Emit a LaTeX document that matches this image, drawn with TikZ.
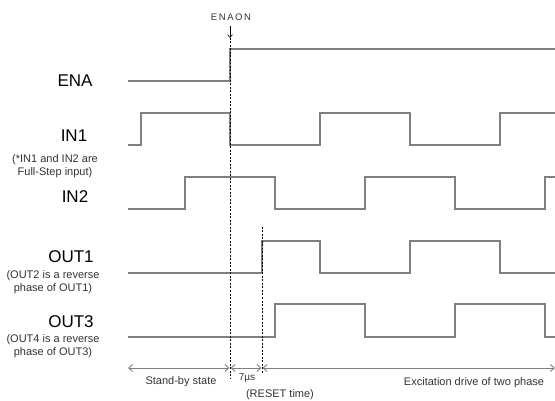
\documentclass[tikz,border=0pt]{standalone}
\usepackage{fontspec}
\setmainfont{Liberation Sans}
\usetikzlibrary{arrows.meta}
\definecolor{wave}{HTML}{808080}
\definecolor{txt}{HTML}{333333}
\tikzset{
  wavel/.style={draw=wave,line width=1.3pt,line join=miter},
  biglabel/.style={font=\fontsize{17}{19}\selectfont,text=black,inner sep=0pt},
  smalllabel/.style={font=\fontsize{11}{13.5}\selectfont,text=txt,inner sep=0pt,align=center},
  guide/.style={draw=black,line width=0.6pt,dash pattern=on 2pt off 1.5pt},
  dimarrow/.style={draw=wave,line width=0.9pt,{Straight Barb[length=4pt,width=7pt]}-{Straight Barb[length=4pt,width=7pt]}},
}
\begin{document}
\begin{tikzpicture}[x=1pt,y=-1pt]
\useasboundingbox (0,0) rectangle (555,401);
% labels
\node[biglabel] (lena) at (75,81) {ENA};
\node[biglabel] (lin1) at (74,136) {IN1};
\node[smalllabel] (nin) at (55,166) {(*IN1 and IN2 are\\Full-Step input)};
\node[biglabel] (lin2) at (75,197) {IN2};
\node[biglabel] (lout1) at (71,257) {OUT1};
\node[smalllabel] (nout1) at (53,282) {(OUT2 is a reverse\\ phase of OUT1)};
\node[biglabel] (lout3) at (71,322) {OUT3};
\node[smalllabel] (nout3) at (53,346) {(OUT4 is a reverse\\ phase of OUT3)};
\node[font=\fontsize{9.5}{11}\selectfont,text=txt,inner sep=0pt] (enaon) at (231,17) {E\,N\,A\,O\,N};
% waveforms
\path[wavel] (128,81) -- (230,81) -- (230,49) -- (555,49);
\path[wavel] (128,145) -- (141,145) -- (141,113) -- (230,113) -- (230,145) -- (320,145) -- (320,113) -- (410,113) -- (410,145) -- (500,145) -- (500,113) -- (555,113);
\path[wavel] (128,209) -- (185,209) -- (185,177) -- (275,177) -- (275,209) -- (365,209) -- (365,177) -- (455,177) -- (455,209) -- (545,209) -- (545,177) -- (555,177);
\path[wavel] (128,273) -- (262,273) -- (262,241) -- (320,241) -- (320,273) -- (410,273) -- (410,241) -- (500,241) -- (500,273) -- (555,273);
\path[wavel] (128,337) -- (275,337) -- (275,304) -- (365,304) -- (365,337) -- (455,337) -- (455,304) -- (545,304) -- (545,337) -- (555,337);
% ENA ON arrow and guides
\coordinate (atop) at (230,26);
\coordinate (abot) at (230,38);
\draw[black,line width=0.6pt,-{Straight Barb[length=3pt,width=5pt]}] (atop) -- (abot);
\coordinate (g1b) at (230,378);
\draw[guide] (abot) -- (g1b);
\coordinate (g2t) at (262,227);
\coordinate (g2b) at (262,374);
\draw[guide] (g2t) -- (g2b);
% dimension arrows
\coordinate (d0) at (128,368);
\coordinate (d1) at (229.5,368);
\coordinate (d2) at (230.5,368);
\coordinate (d3) at (261.5,368);
\coordinate (d4) at (262.5,368);
\coordinate (d5) at (555,368);
\draw[dimarrow] (d0) -- (d1);
\draw[dimarrow] (d2) -- (d3);
\draw[dimarrow] (d4) -- (d5);
\node[smalllabel] (tsb) at (181,382) {Stand-by state};
\node[font=\fontsize{10}{12}\selectfont,text=txt,inner sep=0pt] (t7) at (247,378) {7\textmu s};
\node[smalllabel] (trs) at (280,395) {(RESET time)};
\node[smalllabel] (tex) at (474,383) {Excitation drive of two phase};
\end{tikzpicture}
\end{document}
